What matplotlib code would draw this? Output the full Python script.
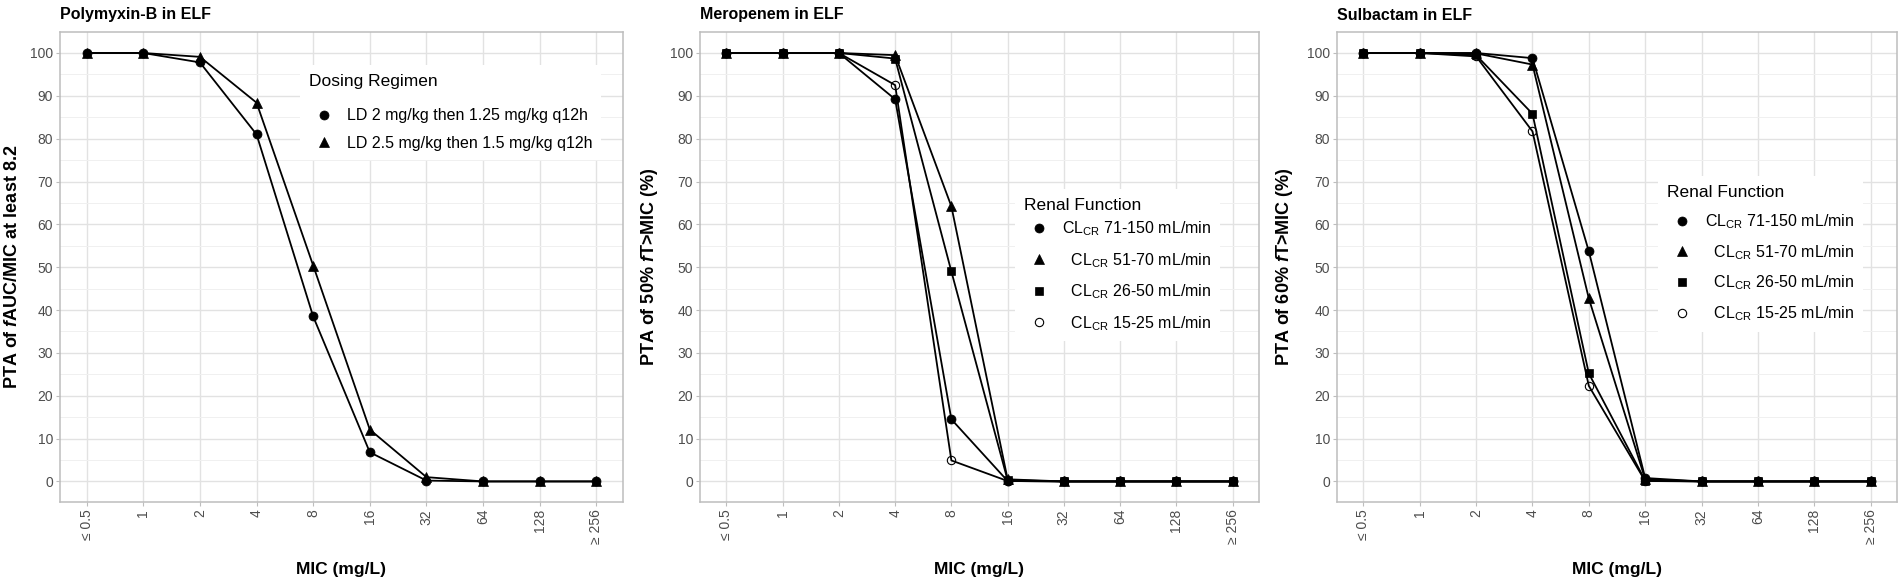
import numpy as np
import matplotlib.pyplot as plt
from matplotlib.lines import Line2D
from matplotlib.ticker import MultipleLocator

plt.rcParams['font.family'] = ['Liberation Sans', 'DejaVu Sans']
plt.rcParams['mathtext.fontset'] = 'custom'
plt.rcParams['mathtext.rm'] = 'Liberation Sans'
plt.rcParams['mathtext.it'] = 'Liberation Sans:italic:bold'
plt.rcParams['mathtext.bf'] = 'Liberation Sans:bold'

mic_labels = ['≤ 0.5', '1', '2', '4', '8', '16', '32', '64', '128', '≥ 256']

# Polymyxin-B, PTA of fAUC/MIC >= 8.2
pmb_ld2 = [100, 100, 97.8, 81.0, 38.5, 6.8, 0.2, 0, 0, 0]
pmb_ld25 = [100, 100, 99.1, 88.4, 50.4, 12.1, 1.0, 0, 0, 0]
pmb_labels = ['LD 2 mg/kg then 1.25 mg/kg q12h', 'LD 2.5 mg/kg then 1.5 mg/kg q12h']

# Meropenem, PTA of 50% fT>MIC
mero_71_150 = [100, 100, 100, 89.2, 14.5, 0.1, 0, 0, 0, 0]
mero_51_70 = [100, 100, 100, 99.5, 64.2, 0.5, 0, 0, 0, 0]
mero_26_50 = [100, 100, 100, 98.7, 49.0, 0.3, 0, 0, 0, 0]
mero_15_25 = [100, 100, 100, 92.5, 4.9, 0.1, 0, 0, 0, 0]

# Sulbactam, PTA of 60% fT>MIC
sulb_71_150 = [100, 100, 100, 98.8, 53.7, 0.8, 0, 0, 0, 0]
sulb_51_70 = [100, 100, 99.9, 97.3, 42.7, 0.5, 0, 0, 0, 0]
sulb_26_50 = [100, 100, 99.5, 85.8, 25.2, 0.2, 0, 0, 0, 0]
sulb_15_25 = [100, 100, 99.2, 81.7, 22.3, 0.1, 0, 0, 0, 0]

# extra leading spaces keep the shorter labels right aligned like the original
renal_labels = [r'CL$_{\mathrm{CR}}$ 71-150 mL/min',
                r'  CL$_{\mathrm{CR}}$ 51-70 mL/min',
                r'  CL$_{\mathrm{CR}}$ 26-50 mL/min',
                r'  CL$_{\mathrm{CR}}$ 15-25 mL/min']

# marker styles: (marker, size, facecolor)
styles = [('o', 6.5, 'black'), ('^', 7, 'black'), ('s', 6, 'black'), ('o', 6, 'none')]

BORDER = '#BDBDBD'


def style_axes(ax, title, ylabel, ylab_x):
    x = np.arange(len(mic_labels))
    ax.set_xticks(x)
    ax.set_xticklabels(mic_labels, rotation=90)
    ax.set_xlim(-0.47, len(mic_labels) - 0.53)
    ax.set_ylim(-4.8, 104.9)
    ax.yaxis.set_major_locator(MultipleLocator(10))
    ax.yaxis.set_minor_locator(MultipleLocator(5))
    ax.grid(True, which='major', color='#E2E2E2', lw=1.0)
    ax.grid(True, which='minor', axis='y', color='#F0F0F0', lw=0.7)
    ax.set_axisbelow(True)
    for sp in ax.spines.values():
        sp.set_color(BORDER)
        sp.set_linewidth(1.1)
    ax.tick_params(which='major', length=3, width=0.8, color=BORDER,
                   labelcolor='#4D4D4D', labelsize=10, pad=2)
    ax.tick_params(which='minor', length=0)
    ax.set_title(title, loc='left', fontsize=11.5, fontweight='bold', pad=9)
    ax.set_xlabel('MIC (mg/L)', fontsize=12.5, fontweight='bold')
    ax.xaxis.set_label_coords(0.5, -0.128)
    ax.set_ylabel(ylabel, fontsize=13, fontweight='bold')
    ax.yaxis.set_label_coords(ylab_x, 0.5)


def draw_series(ax, series):
    x = np.arange(len(mic_labels))
    for y in series:
        ax.plot(x, y, color='black', lw=1.3, zorder=2)
    for y, (m, ms, fc) in zip(series, styles):
        ax.plot(x, y, ls='none', marker=m, ms=ms, mfc=fc, mec='black',
                mew=0.8 if fc == 'none' else 0.5, zorder=3)


def add_legend(ax, labels, title, anchor, spacing, title_sep):
    handles = [Line2D([], [], ls='none', marker=m, ms=ms, mfc=fc, mec='black',
                      mew=0.8 if fc == 'none' else 0.5)
               for (m, ms, fc) in styles[:len(labels)]]
    leg = ax.legend(handles, labels, title=title, loc='upper left',
                    bbox_to_anchor=anchor, borderaxespad=0, frameon=True,
                    fancybox=False, framealpha=1, edgecolor='none',
                    fontsize=11.5, title_fontsize=12.5, handlelength=1.9,
                    handletextpad=0.5, labelspacing=spacing, borderpad=0.55,
                    alignment='left')
    leg.get_frame().set_linewidth(0)
    leg.set_zorder(5)
    # gap between legend title and the first entry (points)
    leg._legend_box.sep = title_sep
    return leg


fig = plt.figure(figsize=(19.02, 5.85), dpi=100)
ax1 = fig.add_axes([60 / 1902, 83 / 585, 563 / 1902, 470 / 585])
ax2 = fig.add_axes([700 / 1902, 83 / 585, 559 / 1902, 470 / 585])
ax3 = fig.add_axes([1337 / 1902, 83 / 585, 560 / 1902, 470 / 585])

draw_series(ax1, [pmb_ld2, pmb_ld25])
style_axes(ax1, 'Polymyxin-B in ELF', r'PTA of $\it{f}$AUC/MIC at least 8.2', -0.069)
add_legend(ax1, pmb_labels, 'Dosing Regimen', (0.426, 0.93), 0.8, 14)

draw_series(ax2, [mero_71_150, mero_51_70, mero_26_50, mero_15_25])
style_axes(ax2, 'Meropenem in ELF', r'PTA of 50% $\it{f}$T>MIC (%)', -0.072)
add_legend(ax2, renal_labels, 'Renal Function', (0.5635, 0.665), 0.8, 4.5)

draw_series(ax3, [sulb_71_150, sulb_51_70, sulb_26_50, sulb_15_25])
style_axes(ax3, 'Sulbactam in ELF', r'PTA of 60% $\it{f}$T>MIC (%)', -0.075)
add_legend(ax3, renal_labels, 'Renal Function', (0.573, 0.693), 0.75, 8.8)

fig.savefig('out.png', dpi=100, facecolor='white')
